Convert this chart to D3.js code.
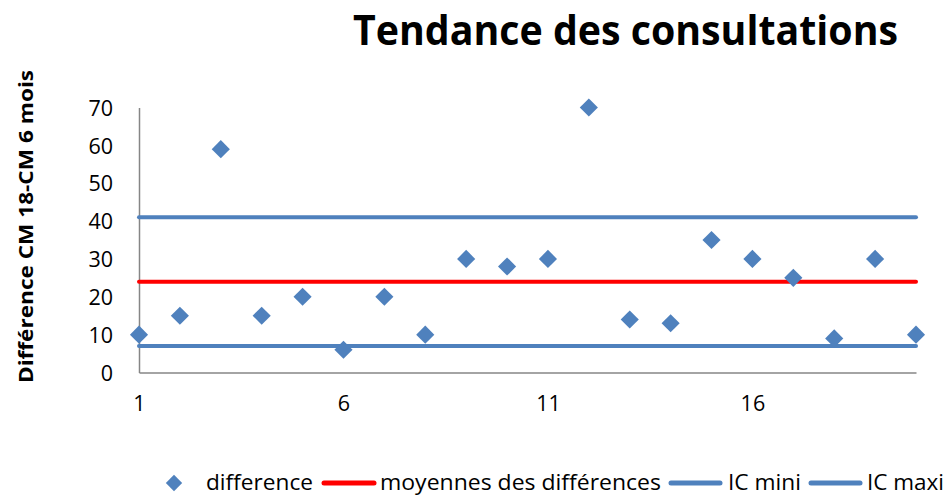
<!DOCTYPE html>
<html><head><meta charset="utf-8">
<script src="https://cdn.jsdelivr.net/npm/d3@7"></script>
<style>body{margin:0;background:#fff}svg{display:block}</style>
</head><body>
<script>
const xValues = [1,2,3,4,5,6,7,8,9,10,11,12,13,14,15,16,17,18,19,20];
const difference = [10,15,59,15,20,6,20,10,30,28,30,70,14,13,35,30,25,9,30,10];
const moyenne = 24;
const icMini = 7;
const icMaxi = 41;
const xTicks = [1,6,11,16];
const yTicks = [0,10,20,30,40,50,60,70];
const legendLabels = ["difference","moyennes des différences","IC mini","IC maxi"];

const W=948,H=497;
const svg=d3.select("body").append("svg").attr("width",W).attr("height",H);
const font="'Open Sans', sans-serif";
const x=d3.scaleLinear().domain([1,20]).range([139,916]);
const y=d3.scaleLinear().domain([0,70]).range([372.5,107.5]);
const blue="#4f81bd", red="#ff0000", grey="#868686";

// title
svg.append("text").attr("x",353).attr("y",45)
  .attr("font-family",font).attr("font-weight","bold").attr("font-size",41)
  .attr("textLength",545).attr("lengthAdjust","spacingAndGlyphs")
  .text("Tendance des consultations");
// y label
svg.append("text").attr("transform","translate(33,383) rotate(-90)")
  .attr("font-family",font).attr("font-weight","bold").attr("font-size",20)
  .attr("textLength",313).attr("lengthAdjust","spacingAndGlyphs")
  .text("Différence CM 18-CM 6 mois");

// axes
const yAxis=svg.append("g").attr("transform","translate(139,0)")
  .call(d3.axisLeft(y).tickValues(yTicks).tickSize(0).tickPadding(26));
const xAxis=svg.append("g").attr("transform","translate(0,372.5)")
  .call(d3.axisBottom(x).tickValues(xTicks).tickSize(0).tickPadding(23));
[yAxis,xAxis].forEach(a=>{
  a.select(".domain").attr("stroke",grey).attr("stroke-width",1.5);
  a.selectAll("text").attr("font-family",font).attr("font-size",21.5).attr("fill","#000");
});
yAxis.selectAll("text").attr("dy","0.36em");

// lines
const hline=(v,c)=>svg.append("line").attr("x1",x(1)).attr("x2",x(20)).attr("y1",y(v)).attr("y2",y(v))
  .attr("stroke",c).attr("stroke-width",4).attr("stroke-linecap","round");
hline(icMaxi,blue); hline(moyenne,red); hline(icMini,blue);

// points
const diamond=d3.symbol().type(d3.symbolDiamond2).size(210);
svg.append("g").selectAll("path").data(xValues).join("path")
  .attr("transform",(d,i)=>`translate(${x(d)},${y(difference[i])})`)
  .attr("d",diamond).attr("fill",blue);

// legend
const ly=483, tb=489.5;
const lg=svg.append("g").attr("font-family",font).attr("font-size",22);
lg.append("path").attr("transform",`translate(174,${ly})`).attr("d",d3.symbol().type(d3.symbolDiamond2).size(170)).attr("fill",blue);
const ltext=(x0,w,t)=>lg.append("text").attr("x",x0).attr("y",tb).attr("textLength",w).attr("lengthAdjust","spacingAndGlyphs").text(t);
const lline=(x1,x2,c)=>lg.append("line").attr("x1",x1).attr("x2",x2).attr("y1",ly).attr("y2",ly).attr("stroke",c).attr("stroke-width",5).attr("stroke-linecap","round");
ltext(206,107,legendLabels[0]);
lline(324,374,red);
ltext(380,281,legendLabels[1]);
lline(671,720,blue);
ltext(728,73,legendLabels[2]);
lline(811,860,blue);
ltext(867,77,legendLabels[3]);
</script>
</body></html>
